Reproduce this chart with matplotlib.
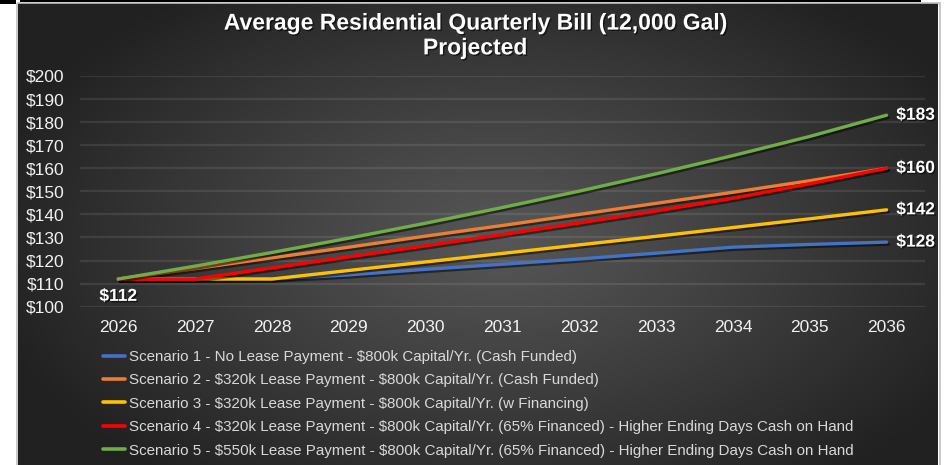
import numpy as np
import matplotlib
matplotlib.use("Agg")
import matplotlib.pyplot as plt
import matplotlib.patheffects as pe
from matplotlib.patches import Rectangle

plt.rcParams['font.family'] = ['Liberation Sans', 'DejaVu Sans']

# ---------------- data ----------------
years = [2026, 2027, 2028, 2029, 2030, 2031, 2032, 2033, 2034, 2035, 2036]
scenario1 = [112, 112, 112, 113.8, 116.2, 118.4, 120.7, 123.2, 125.8, 127, 128]
scenario2 = [112, 116.5, 121.2, 125.8, 130.6, 135.2, 140, 144.8, 149.6, 154.6, 160]
scenario3 = [112, 112, 112, 115.7, 119.4, 123.1, 126.8, 130.5, 134.3, 138.1, 142]
scenario4 = [112, 112, 116.8, 121.6, 126.4, 131.3, 136.3, 141.5, 147, 153.3, 160]
scenario5 = [112, 117.6, 123.5, 129.7, 136.2, 143, 150.1, 157.6, 165.5, 173.8, 183]
labels = [
    "Scenario 1 - No Lease Payment - \\$800k Capital/Yr. (Cash Funded)",
    "Scenario 2 - \\$320k Lease Payment - \\$800k Capital/Yr. (Cash Funded)",
    "Scenario 3 - \\$320k Lease Payment - \\$800k Capital/Yr. (w Financing)",
    "Scenario 4 - \\$320k Lease Payment - \\$800k Capital/Yr. (65% Financed) - Higher Ending Days Cash on Hand",
    "Scenario 5 - \\$550k Lease Payment - \\$800k Capital/Yr. (65% Financed) - Higher Ending Days Cash on Hand",
]
colors = ["#4472C4", "#ED7D31", "#FFC000", "#FF0000", "#70AD47"]
y_ticks = [100, 110, 120, 130, 140, 150, 160, 170, 180, 190, 200]
title = "Average Residential Quarterly Bill (12,000 Gal)\nProjected"

series = [scenario1, scenario2, scenario3, scenario4, scenario5]

W, H = 951, 465
fig = plt.figure(figsize=(W / 100, H / 100), dpi=100)
fig.patch.set_facecolor("white")

# ---------------- background panel ----------------
bg = fig.add_axes([0, 0, 1, 1], zorder=-10)
bg.set_xlim(0, W)
bg.set_ylim(H, 0)
bg.axis("off")
px0, px1, py0, py1 = 18, 938, 4, 465
xx, yy = np.meshgrid(np.linspace(px0, px1, 460), np.linspace(py0, py1, 240))
d = np.sqrt(((xx - 500) / 520) ** 2 + ((yy - 240) / 300) ** 2)
val = 86 - 52 * np.clip(d, 0, 1.2) ** 1.1
val = np.clip(val, 33, 90) / 255.0
img = np.dstack([val, val, val])
bg.imshow(img, extent=(px0, px1, py1, py0), aspect="auto", interpolation="bilinear")
bg.add_patch(Rectangle((px0 - 1.5, py0 - 1), px1 - px0 + 3, py1 - py0 + 3,
                       fill=False, ec="#bfbfbf", lw=1.2))
bg.add_patch(Rectangle((0, 0), 16, 4, color="black", lw=0))
bg.add_patch(Rectangle((20, 0), 901, 2.5, color="black", lw=0))
bg.set_xlim(0, W)
bg.set_ylim(H, 0)

# ---------------- main axes ----------------
ax_left, ax_right = 80, 925
ax_top, ax_bottom = 76, 306.7
ax = fig.add_axes([ax_left / W, 1 - ax_bottom / H, (ax_right - ax_left) / W,
                   (ax_bottom - ax_top) / H])
ax.set_facecolor("none")
for s in ax.spines.values():
    s.set_visible(False)
ax.set_xlim(2025.5, 2036.5)
ax.set_ylim(100, 200)
ax.set_yticks(y_ticks)
ax.set_yticklabels([f"${v}" for v in y_ticks])
ax.set_xticks(years)
ax.set_xticklabels([str(y) for y in years])
ax.yaxis.grid(True, color="white", alpha=0.09, lw=1.6, zorder=0)
ax.tick_params(axis="y", length=0, pad=11, labelsize=12.5, labelcolor="#f2f2f2")
ax.tick_params(axis="x", length=0, pad=9.5, labelsize=12.5, labelcolor="#f2f2f2")

shadow = [pe.SimpleLineShadow(offset=(1.2, -1.5), shadow_color="black", alpha=0.5),
          pe.Normal()]
handles = []
for vals, c, lab in zip(series, colors, labels):
    h, = ax.plot(years, vals, color=c, lw=2.4, solid_capstyle="round",
                 label=lab, path_effects=shadow, zorder=3)
    handles.append(h)

txt_shadow = [pe.withSimplePatchShadow(offset=(1, -1), shadow_rgbFace="black", alpha=0.6)]
for vals in [scenario5, scenario4, scenario3, scenario1]:
    ax.annotate(f"${vals[-1]:.0f}", xy=(years[-1], vals[-1]), xytext=(7, 0),
                textcoords="offset points", ha="left", va="center",
                color="white", fontsize=12.5, fontweight="bold",
                path_effects=txt_shadow)
ax.annotate(f"${scenario1[0]:.0f}", xy=(years[0], scenario1[0]), xytext=(0, -12.5),
            textcoords="offset points", ha="center", va="center",
            color="white", fontsize=12.5, fontweight="bold",
            path_effects=txt_shadow)

leg = ax.legend(handles=handles, loc="upper left",
                bbox_to_anchor=(103 / W, 1 - 350 / H),
                bbox_transform=fig.transFigure, frameon=False,
                fontsize=10.9, handlelength=1.45, handletextpad=0.27,
                labelspacing=0.62, borderpad=0, borderaxespad=0)
for t in leg.get_texts():
    t.set_color("#d9d9d9")
for lh in leg.get_lines():
    lh.set_linewidth(2.6)
    lh.set_path_effects([])

fig.text(475 / W, 1 - 35.5 / H, title, ha="center", va="center", color="white",
         fontsize=16.5, fontweight="bold", linespacing=1.1,
         path_effects=txt_shadow)

fig.savefig("out.png", dpi=100, facecolor=fig.get_facecolor())
